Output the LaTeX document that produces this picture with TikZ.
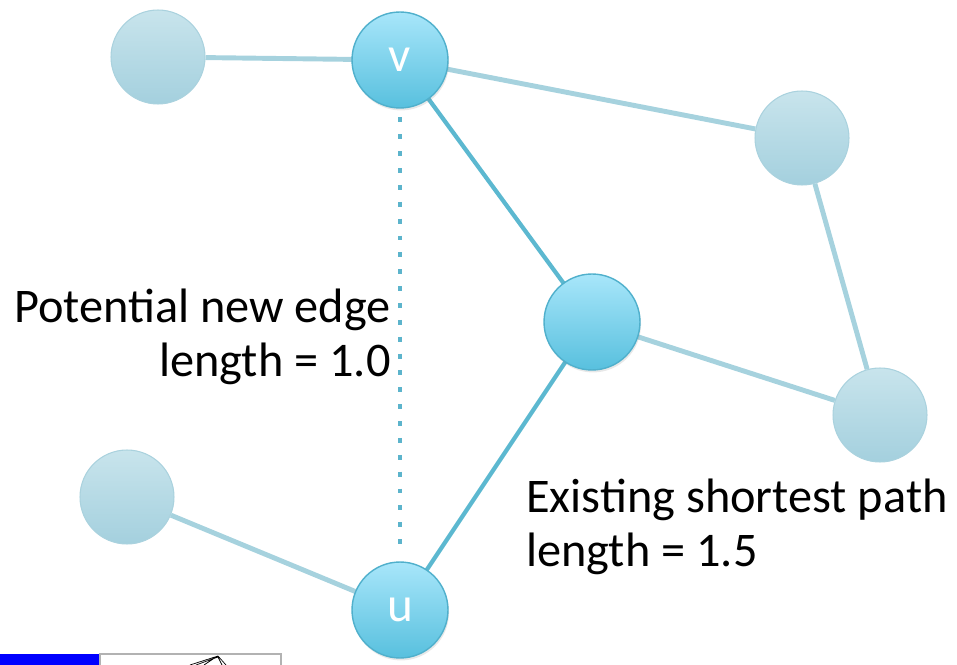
\documentclass[tikz,border=0pt]{standalone}
\usepackage{fontspec}
\setmainfont{Carlito}
\usetikzlibrary{shadows}
\definecolor{gvTop}{RGB}{168,230,250}
\definecolor{gvBot}{RGB}{88,192,222}
\definecolor{gvRim}{RGB}{80,176,204}
\definecolor{gpTop}{RGB}{200,228,236}
\definecolor{gpBot}{RGB}{164,208,222}
\definecolor{gpRim}{RGB}{170,210,222}
\definecolor{geL}{RGB}{166,210,222}
\definecolor{geD}{RGB}{92,184,208}
\definecolor{gDot}{RGB}{92,180,204}

\begin{document}
\begin{tikzpicture}[x=0.02cm, y=-0.02cm,
    hot/.style={circle, draw=gvRim, line width=0.8pt, top color=gvTop, bottom color=gvBot,
      minimum size=1.92cm, inner sep=0pt, text=white, font=\fontsize{28}{30}\selectfont,
      drop shadow={opacity=0.18, shadow xshift=0.6pt, shadow yshift=-1.4pt}},
    pale/.style={circle, draw=gpRim, line width=0.6pt, top color=gpTop, bottom color=gpBot,
      minimum size=1.88cm, inner sep=0pt},
    thin/.style={draw=geL, line width=2.8pt},
    main/.style={draw=geD, line width=2.4pt},
    dots/.style={draw=gDot, line width=2.8pt, dash pattern=on 2.8pt off 6.8pt},
    note/.style={font=\fontsize{27.5}{31}\selectfont, inner sep=0pt},
  ]
  \useasboundingbox (0,0) rectangle (957,665);

  % nodes
  \node[pale] (a) at (158,57) {};
  \node[pale] (b) at (802,138) {};
  \node[pale] (d) at (880,415) {};
  \node[pale] (e) at (127,497) {};
  \coordinate (vp) at (400,60);
  \coordinate (cp) at (592,322);
  \coordinate (up) at (400,610);

  % edges (behind the hot nodes)
  \draw[thin] (a) -- (vp);
  \draw[thin] (vp) -- (b);
  \draw[thin] (b) -- (d);
  \draw[thin] (cp) -- (d);
  \draw[thin] (e) -- (up);
  \draw[main] (vp) -- (cp);
  \draw[main] (cp) -- (up);

  \node[hot] (v) at (vp) {v};
  \node[hot] (c) at (cp) {};
  \node[hot] (u) at (up) {u};

  % potential edge
  \draw[dots] ([yshift=-5pt]v.south) -- ([yshift=5pt]u.north);

  % labels
  \node[note, align=right, anchor=east] (pot) at (391,337) {Potential new edge\\length = 1.0};
  \node[note, align=left, anchor=west] (ext) at (526,527) {Existing shortest path\\length = 1.5};

  % cut-off strip at the lower left
  \fill[blue] (0,654) rectangle (100,665);
  \draw[gray!60, line width=0.6pt] (100,665) -- (100,654) -- (281,654) -- (281,665);
  \draw[black, line width=0.4pt] (190,665) -- (218,656) -- (226,665)
    (196,665) -- (218,657) -- (222,665) (204,665) -- (216,657);
\end{tikzpicture}
\end{document}
